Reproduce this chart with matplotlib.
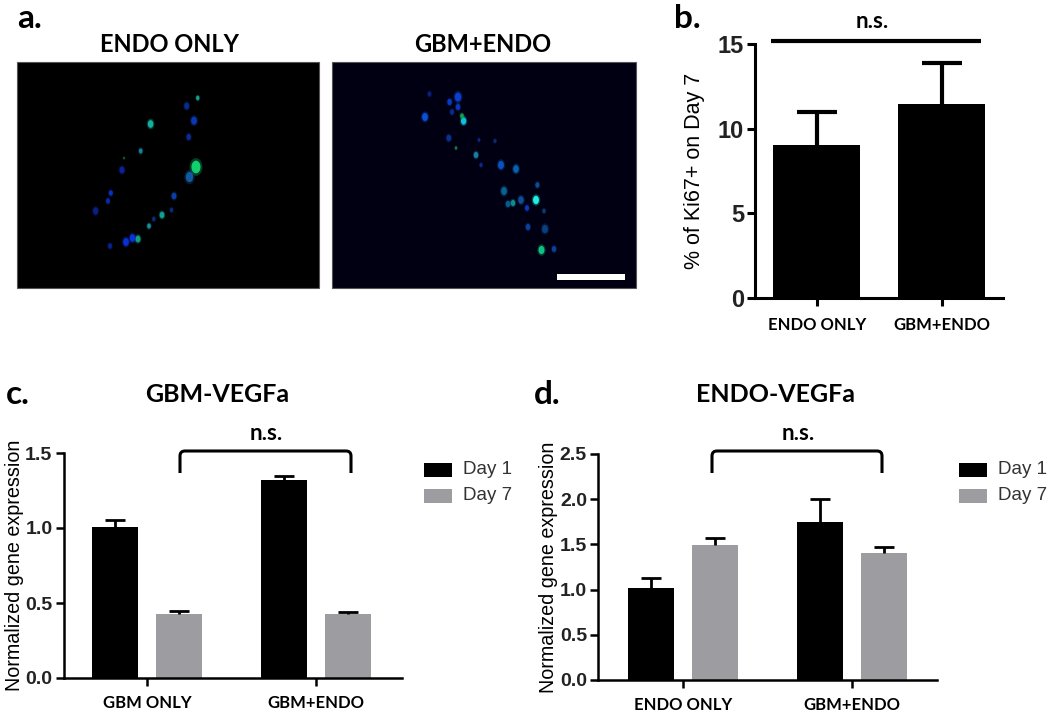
import matplotlib
matplotlib.use('Agg')
import matplotlib.pyplot as plt
from matplotlib.path import Path
from matplotlib.patches import PathPatch, Rectangle
from matplotlib.transforms import Affine2D

W, H = 1050, 713
LABEL_FONT = 'Lato'
AXIS_FONT = 'Liberation Sans'
GREY = '#9d9da1'

# Panel b
b_groups = ['ENDO ONLY', 'GBM+ENDO']
b_values = [9.05, 11.45]
b_errors = [1.95, 2.4]
b_ticks = [0, 5, 10, 15]

# Panel c
c_groups = ['GBM ONLY', 'GBM+ENDO']
c_day1 = [1.01, 1.32]
c_day1_err = [0.045, 0.025]
c_day7 = [0.43, 0.425]
c_day7_err = [0.015, 0.018]
c_ticks = [0.0, 0.5, 1.0, 1.5]

# Panel d
d_groups = ['ENDO ONLY', 'GBM+ENDO']
d_day1 = [1.02, 1.75]
d_day1_err = [0.11, 0.25]
d_day7 = [1.49, 1.41]
d_day7_err = [0.08, 0.06]
d_ticks = [0.0, 0.5, 1.0, 1.5, 2.0, 2.5]

# Cells in panel a (pixel position in the figure, size, colour)
left_x = [197.7, 186.7, 150.6, 194, 188.7, 140.7, 124, 122, 196, 189.5, 174,
          110.8, 108, 95.6, 171.5, 162, 153.8, 149, 138, 132.5, 126, 110]
left_y = [98, 106, 124, 120.7, 137, 151, 158, 170, 167, 177, 196,
          193, 201, 211, 210, 215, 219, 226, 239, 238, 242, 246]
left_s = [10, 22, 28, 30, 18, 12, 3, 22, 75, 50, 20,
          14, 14, 25, 10, 20, 10, 12, 22, 28, 30, 14]
left_c = ['#12a08a', '#0a2a90', '#12b09a', '#0a38b0', '#0a2a98', '#1480a0', '#0a6a30',
          '#0a22a0', '#10d070', '#1458a0', '#0a40a8', '#0a30c0', '#0a28a8', '#0a2080',
          '#0a2a80', '#10a090', '#0a2a80', '#1290a0', '#10a080', '#0a30e0', '#0a30d0', '#0a2090']

right_x = [429.5, 458, 449.6, 458, 452, 425, 463.6, 462, 448.8, 456, 479, 495, 476, 481,
           501, 516, 537.4, 504, 536, 521, 513, 527, 508, 544, 528, 545, 541.5, 554]
right_y = [94, 97, 102, 107, 112, 117, 121, 116, 138, 148, 140, 141, 155, 165,
           165, 169, 185, 191, 200, 200, 203, 208, 204, 211, 227, 229, 250, 249]
right_s = [12, 38, 18, 18, 14, 30, 25, 12, 20, 5, 6, 8, 18, 8,
           32, 28, 14, 30, 32, 26, 18, 14, 18, 10, 18, 32, 32, 16]
right_c = ['#0a2080', '#0a40d0', '#0a38c0', '#0a38b8', '#0a2a90', '#0a50d8', '#10c0d8', '#10a050',
           '#0a3090', '#108050', '#0a2a80', '#0a2a70', '#1480a0', '#0a2a90', '#0a50c0', '#0a60b0',
           '#0a5090', '#0a6090', '#20f0e0', '#0a5098', '#108a90', '#0a38c0', '#0a5a90', '#0a3a70',
           '#0a40a0', '#0a4080', '#10c080', '#0a40a0']


def px_axes(x0, x1, y_top, y_bottom):
    return fig.add_axes([x0 / W, 1 - y_bottom / H, (x1 - x0) / W, (y_bottom - y_top) / H])


def style_axes(ax, ticks, groups, xlim, lw, tick_size, fmt, xpad=6):
    ax.set_xlim(*xlim)
    ax.set_ylim(ticks[0], ticks[-1])
    ax.spines['top'].set_visible(False)
    ax.spines['right'].set_visible(False)
    ax.spines['left'].set_linewidth(lw)
    ax.spines['bottom'].set_linewidth(lw)
    ax.patch.set_alpha(0)
    ax.set_yticks(ticks)
    ax.set_yticklabels([fmt % t for t in ticks], fontfamily=AXIS_FONT, fontweight='bold',
                       fontsize=tick_size, color='#222222')
    ax.set_xticks([0, 1])
    ax.set_xticklabels(groups, fontfamily=LABEL_FONT, fontweight='bold', fontsize=12)
    ax.tick_params(axis='y', width=lw, length=6, pad=2)
    ax.tick_params(axis='x', width=lw, length=6, pad=xpad)


def error_up(ax, x, values, errs, lw, cap):
    # только верхний ус, без нижней засечки на столбце
    for xi, v, e in zip(x, values, errs):
        ax.plot([xi, xi], [v, v + e], color='black', lw=lw, solid_capstyle='butt')
        ax.plot([xi], [v + e], marker='_', ms=cap, mew=lw, color='black')


def grouped(ax, day1, err1, day7, err7):
    off = 0.188
    width = 0.272
    x1 = [0 - off, 1 - off]
    x7 = [0 + off, 1 + off]
    ax.bar(x1, day1, width, color='black')
    ax.bar(x7, day7, width, color=GREY)
    error_up(ax, x1, day1, err1, 2, 15)
    error_up(ax, x7, day7, err7, 2, 15)


def bracket(x0, x1, y0, y1):
    r = 5
    verts = [(x0, y1), (x0, y0 + r), (x0, y0), (x0 + r, y0), (x1 - r, y0), (x1, y0), (x1, y0 + r), (x1, y1)]
    codes = [Path.MOVETO, Path.LINETO, Path.CURVE3, Path.CURVE3, Path.LINETO, Path.CURVE3, Path.CURVE3, Path.LINETO]
    over.add_patch(PathPatch(Path(verts, codes), fill=False, lw=2.2, edgecolor='black'))


def legend_box(x, text_x):
    for y, col, lab in [(470, 'black', 'Day 1'), (495.5, GREY, 'Day 7')]:
        over.add_patch(Rectangle((x, y - 7), 28, 14, facecolor=col, edgecolor='none'))
        over.text(text_x, y, lab, fontfamily=AXIS_FONT, fontsize=13.5, color='#333333', va='center')


fig = plt.figure(figsize=(W / 100, H / 100), dpi=100)

# Overlay in pixel coordinates for images, labels, brackets
over = fig.add_axes([0, 0, 1, 1])
over.set_xlim(0, W)
over.set_ylim(H, 0)
over.axis('off')

# Panel a: micrographs
over.add_patch(Rectangle((16.5, 62), 302, 226, facecolor='#000000', edgecolor='#555555', lw=0.8))
over.add_patch(Rectangle((332, 62), 304, 226, facecolor='#000012', edgecolor='#555555', lw=0.8))
nucleus = Affine2D().scale(0.72, 1).transform_path(Path.unit_circle())
for xs, ys, ss, cs in [(left_x, left_y, left_s, left_c), (right_x, right_y, right_s, right_c)]:
    over.scatter(xs, ys, s=[v * 2.2 for v in ss], c=cs, alpha=0.3, linewidths=0, marker=nucleus)
    over.scatter(xs, ys, s=[v * 1.1 for v in ss], c=cs, linewidths=0, marker=nucleus)
over.add_patch(Rectangle((557, 274), 68, 6, facecolor='white', edgecolor='none'))

over.text(29, 19, 'a.', fontfamily=LABEL_FONT, fontweight='bold', fontsize=24, ha='center', va='center')
over.text(169, 44, 'ENDO ONLY', fontfamily=LABEL_FONT, fontweight='bold', fontsize=17, ha='center', va='center')
over.text(483, 44, 'GBM+ENDO', fontfamily=LABEL_FONT, fontweight='bold', fontsize=17, ha='center', va='center')

# Panel b
ax_b = px_axes(755, 1003, 44, 298)
ax_b.bar([0, 1], b_values, 0.696, color='black')
error_up(ax_b, [0, 1], b_values, b_errors, 3, 29)
style_axes(ax_b, b_ticks, b_groups, (-0.496, 1.49), 2.2, 17, '%d', xpad=8)
ax_b.set_ylabel('% of Ki67+ on Day 7', fontfamily=AXIS_FONT, fontsize=15.5, labelpad=9)
over.plot([771, 981], [41, 41], color='black', lw=3, solid_capstyle='butt')
over.text(872, 21, 'n.s.', fontfamily=LABEL_FONT, fontweight='bold', fontsize=16, ha='center', va='center')
over.text(687, 19, 'b.', fontfamily=LABEL_FONT, fontweight='bold', fontsize=24, ha='center', va='center')

# Panel c
ax_c = px_axes(63.6, 402, 453, 678)
grouped(ax_c, c_day1, c_day1_err, c_day7, c_day7_err)
style_axes(ax_c, c_ticks, c_groups, (-0.493, 1.51), 1.8, 14, '%.1f')
ax_c.set_ylabel('Normalized gene expression', fontfamily=AXIS_FONT, fontsize=14.2, labelpad=1)
over.text(18, 394, 'c.', fontfamily=LABEL_FONT, fontweight='bold', fontsize=24, ha='center', va='center')
over.text(217, 395, 'GBM-VEGFa', fontfamily=LABEL_FONT, fontweight='bold', fontsize=18, ha='center', va='center')
over.text(266, 433, 'n.s.', fontfamily=LABEL_FONT, fontweight='bold', fontsize=16, ha='center', va='center')
bracket(180, 351, 451, 473)
legend_box(424, 463)

# Panel d
ax_d = px_axes(598, 937, 454, 680)
grouped(ax_d, d_day1, d_day1_err, d_day7, d_day7_err)
style_axes(ax_d, d_ticks, d_groups, (-0.503, 1.503), 1.8, 14, '%.1f')
ax_d.set_ylabel('Normalized gene expression', fontfamily=AXIS_FONT, fontsize=14.2, labelpad=1)
over.text(547, 394, 'd.', fontfamily=LABEL_FONT, fontweight='bold', fontsize=24, ha='center', va='center')
over.text(776, 395, 'ENDO-VEGFa', fontfamily=LABEL_FONT, fontweight='bold', fontsize=18, ha='center', va='center')
over.text(798, 433, 'n.s.', fontfamily=LABEL_FONT, fontweight='bold', fontsize=16, ha='center', va='center')
bracket(712, 882, 451, 473)
legend_box(959, 998)

plt.savefig('out.png', dpi=100)
plt.close()
